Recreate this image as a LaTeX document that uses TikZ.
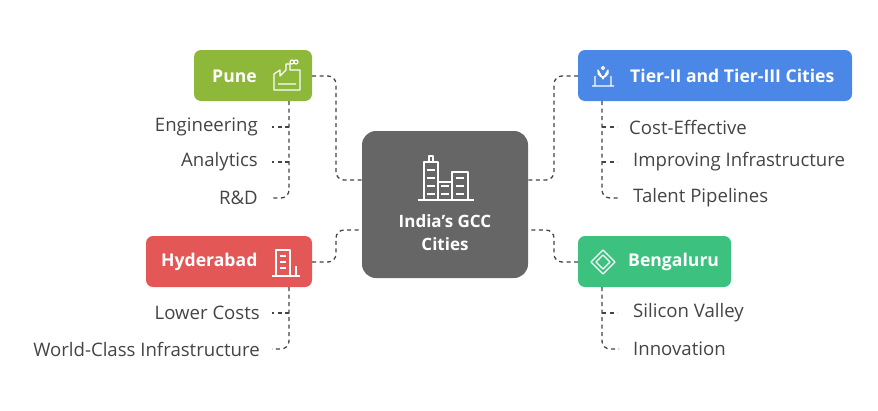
\documentclass[tikz,border=0pt]{standalone}
\usepackage{fontspec}
\setmainfont{Open Sans}
\definecolor{puneC}{HTML}{8DB83A}
\definecolor{tierC}{HTML}{4B87E6}
\definecolor{hydC}{HTML}{E45757}
\definecolor{benC}{HTML}{3CC17F}
\definecolor{coreC}{HTML}{666666}
\definecolor{txtC}{HTML}{444444}
\tikzset{
  citybox/.style={rounded corners=7pt, draw=none},
  head/.style={text=white, font=\fontsize{17.6}{20}\selectfont\bfseries, anchor=west, inner sep=0pt},
  item/.style={text=txtC, font=\fontsize{18.6}{21}\selectfont, inner sep=0pt},
  link/.style={line width=1.3pt, draw=txtC, dash pattern=on 4pt off 3.5pt, rounded corners=8pt},
  icon/.style={white, line width=1.2pt, line join=round}
}
\begin{document}
\begin{tikzpicture}[x=1pt,y=-1pt]
  \useasboundingbox (0,0) rectangle (878,410);
  % central box
  \fill[coreC, rounded corners=14pt] (362,131) rectangle (528,278);
  \node[text=white, font=\fontsize{17}{23}\selectfont\bfseries, align=center] (core) at (445,233) {India\symbol{39}s GCC\\Cities};
  \coordinate (cl1) at (362,180); \coordinate (cl2) at (362,230);
  \coordinate (cr1) at (528,180); \coordinate (cr2) at (528,230);
  % building icon
  \draw[icon] (424,200) rectangle (438,162) (429,162) -- (429,156) -- (433,156) -- (433,162)
    (438,200) rectangle (452,182) (452,200) rectangle (468,172)
    (418,200) -- (474,200);
  \foreach \yy in {170,178,186,194} \draw[icon] (427,\yy) -- (435,\yy);
  \foreach \yy in {186,194} \draw[icon] (441,\yy) -- (449,\yy);
  \foreach \yy in {178,186,194} \draw[icon] (456,\yy) -- (464,\yy);

  % Pune
  \fill[puneC, citybox] (194,50) rectangle (312,101);
  \node[head] (pune) at (212,76) {Pune};
  \coordinate (puneR) at (312,76);
  \draw[icon] (274,90) -- (274,74) -- (280,70) -- (280,76) -- (286,70) -- (286,64) -- (290,64) -- (290,70) -- (300,70) -- (300,90) -- cycle
    (278,84) -- (296,84) (292,62) circle (2pt) (296,62) circle (2pt);
  % Tier
  \fill[tierC, citybox] (578,50) rectangle (852,101);
  \node[head] (tier) at (630,76) {Tier-II and Tier-III Cities};
  \coordinate (tierL) at (578,76);
  \draw[icon] (592,86) -- (614,86) (595,86) -- (595,76) (611,86) -- (611,76)
    (603,79) -- (598,70) arc (200:-20:5.3) -- cycle (603,68) circle (1.6pt);
  % Hyderabad
  \fill[hydC, citybox] (146,236) rectangle (312,287);
  \node[head] (hyd) at (161,262) {Hyderabad};
  \coordinate (hydR) at (312,262);
  \draw[icon] (276,276) rectangle (290,250) (272,276) -- (300,276) (296,276) -- (296,266);
  \foreach \yy in {256,262,268} \draw[icon] (280,\yy) -- (286,\yy);
  % Bengaluru
  \fill[benC, citybox] (578,236) rectangle (731,287);
  \node[head] (ben) at (628,262) {Bengaluru};
  \coordinate (benL) at (578,262);
  \draw[icon] (603,250) -- (615,262) -- (603,274) -- (591,262) -- cycle
    (603,255) -- (610,262) -- (603,269) -- (596,262) -- cycle;

  % main links
  \draw[link] (puneR) -- (336,76) -- (336,180) -- (cl1);
  \draw[link] (hydR) -- (336,262) -- (336,230) -- (cl2);
  \draw[link] (tierL) -- (554,76) -- (554,180) -- (cr1);
  \draw[link] (benL) -- (554,262) -- (554,230) -- (cr2);

  % Pune items
  \node[item, anchor=east] (p1) at (258,127) {Engineering};
  \node[item, anchor=east] (p2) at (258,162) {Analytics};
  \node[item, anchor=east] (p3) at (258,198) {R\&D};
  \draw[link] (289,101) -- (289,198) -- (270,198);
  \foreach \yy in {127,162} \draw[link] (289,\yy) -- (272,\yy);
  % Hyderabad items
  \node[item, anchor=east] (h1) at (260,313) {Lower Costs};
  \node[item, anchor=east] (h2) at (260,349) {World-Class Infrastructure};
  \draw[link] (289,287) -- (289,349) -- (272,349);
  \draw[link] (289,313) -- (272,313);
  % Tier items
  \node[item, anchor=west] (t1) at (629,127) {Cost-Effective};
  \node[item, anchor=west] (t2) at (633,162) {Improving Infrastructure};
  \node[item, anchor=west] (t3) at (633,198) {Talent Pipelines};
  \draw[link] (602,101) -- (602,198) -- (619,198);
  \foreach \yy in {127,162} \draw[link] (602,\yy) -- (617,\yy);
  % Bengaluru items
  \node[item, anchor=west] (b1) at (633,313) {Silicon Valley};
  \node[item, anchor=west] (b2) at (633,349) {Innovation};
  \draw[link] (602,287) -- (602,349) -- (619,349);
  \draw[link] (602,313) -- (617,313);
\end{tikzpicture}
\end{document}
